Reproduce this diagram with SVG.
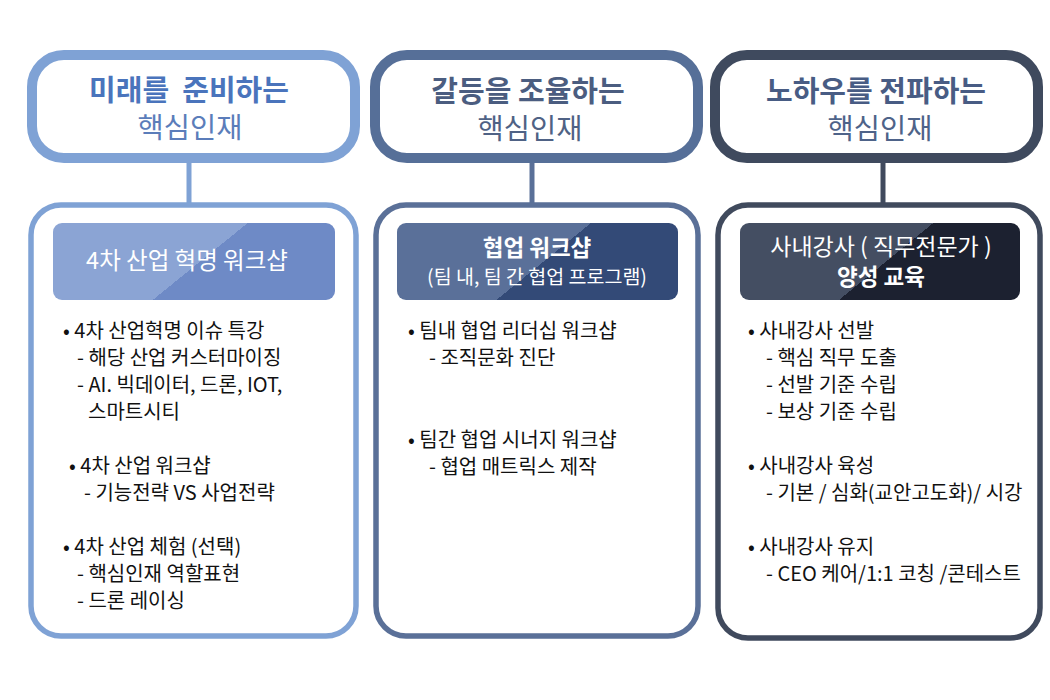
<svg xmlns="http://www.w3.org/2000/svg" width="1050" height="700" viewBox="0 0 1050 700">
<style>
text{font-family:"Noto Sans CJK KR","Noto Sans",sans-serif}
.hd{font-size:29px;font-weight:700;text-anchor:middle}
.hs{font-size:28.5px;font-weight:400;text-anchor:middle}
.tt{fill:#fff;text-anchor:middle}
.b{font-size:20px;fill:#111}
.hbox{fill:#fff;stroke-width:10}
.lbox{fill:#fff;stroke-width:5.5}
</style>
<defs>
<linearGradient id="g1" x1="0" y1="0" x2="1" y2="0.337"><stop offset="0.62" stop-color="#8BA4D4"/><stop offset="0.62" stop-color="#6E8AC6"/></linearGradient>
<linearGradient id="g2" x1="0" y1="0" x2="1" y2="0.337"><stop offset="0.62" stop-color="#5A7099"/><stop offset="0.62" stop-color="#334A77"/></linearGradient>
<linearGradient id="g3" x1="0" y1="0" x2="1" y2="0.337"><stop offset="0.62" stop-color="#444E62"/><stop offset="0.62" stop-color="#1C2130"/></linearGradient>
</defs>
<g id="connectors">
<line x1="189" y1="160" x2="189" y2="206" stroke="#7FA2D5" stroke-width="5"/>
<line x1="532" y1="160" x2="532" y2="206" stroke="#5A7098" stroke-width="5"/>
<line x1="883" y1="160" x2="883" y2="206" stroke="#404A5D" stroke-width="5"/>
</g>
<g id="head1">
<rect class="hbox" x="32" y="55" width="323" height="103" rx="32" stroke="#7FA2D5"/>
<text class="hd" x="189" y="101" fill="#4A74BC" xml:space="preserve">미래를  준비하는</text>
<text class="hs" x="190" y="138" fill="#5B7DBA">핵심인재</text>
</g>
<g id="head2">
<rect class="hbox" x="375" y="55" width="323" height="103" rx="32" stroke="#566F98"/>
<text class="hd" x="528" y="102" fill="#4B5D80">갈등을 조율하는</text>
<text class="hs" x="530" y="139" fill="#4F6285">핵심인재</text>
</g>
<g id="head3">
<rect class="hbox" x="715" y="55" width="323" height="103" rx="32" stroke="#3F4A5E"/>
<text class="hd" x="876" y="102" fill="#485C84">노하우를 전파하는</text>
<text class="hs" x="880" y="139" fill="#4E6389">핵심인재</text>
</g>
<g id="col1">
<rect class="lbox" x="31" y="205" width="325" height="431" rx="30" stroke="#7FA2D5"/>
<rect x="53" y="223" width="282" height="77" rx="9" fill="url(#g1)"/>
<text class="tt" x="187" y="269" font-size="23.5">4차 산업 혁명 워크샵</text>
<text class="b" x="63" y="338">• 4차 산업혁명 이슈 특강</text>
<text class="b" x="77" y="365">- 해당 산업 커스터마이징</text>
<text class="b" x="77" y="392">- AI. 빅데이터, 드론, IOT,</text>
<text class="b" x="88" y="419">스마트시티</text>
<text class="b" x="69" y="473">• 4차 산업 워크샵</text>
<text class="b" x="84" y="500">- 기능전략 VS 사업전략</text>
<text class="b" x="63" y="554">• 4차 산업 체험 (선택)</text>
<text class="b" x="77" y="581">- 핵심인재 역할표현</text>
<text class="b" x="77" y="608">- 드론 레이싱</text>
</g>
<g id="col2">
<rect class="lbox" x="376" y="205" width="322" height="431" rx="30" stroke="#5A7098"/>
<rect x="397" y="223" width="281" height="77" rx="9" fill="url(#g2)"/>
<text class="tt" x="537" y="256" font-size="22.5" font-weight="700">협업 워크샵</text>
<text class="tt" x="537" y="284" font-size="19.5">(팀 내, 팀 간 협업 프로그램)</text>
<text class="b" x="408" y="338">• 팀내 협업 리더십 워크샵</text>
<text class="b" x="429" y="365">- 조직문화 진단</text>
<text class="b" x="408" y="447">• 팀간 협업 시너지 워크샵</text>
<text class="b" x="429" y="474">- 협업 매트릭스 제작</text>
</g>
<g id="col3">
<rect class="lbox" x="718" y="205" width="322" height="433" rx="30" stroke="#404A5D"/>
<rect x="740" y="223" width="280" height="77" rx="9" fill="url(#g3)"/>
<text class="tt" x="881" y="255" font-size="23">사내강사 ( 직무전문가 )</text>
<text class="tt" x="881" y="285" font-size="22.5" font-weight="700">양성 교육</text>
<text class="b" x="748" y="338">• 사내강사 선발</text>
<text class="b" x="766" y="365">- 핵심 직무 도출</text>
<text class="b" x="766" y="392">- 선발 기준 수립</text>
<text class="b" x="766" y="419">- 보상 기준 수립</text>
<text class="b" x="748" y="473">• 사내강사 육성</text>
<text class="b" x="766" y="500">- 기본 / 심화(교안고도화)/ 시강</text>
<text class="b" x="748" y="554">• 사내강사 유지</text>
<text class="b" x="766" y="581">- CEO 케어/1:1 코칭 /콘테스트</text>
</g>
</svg>
